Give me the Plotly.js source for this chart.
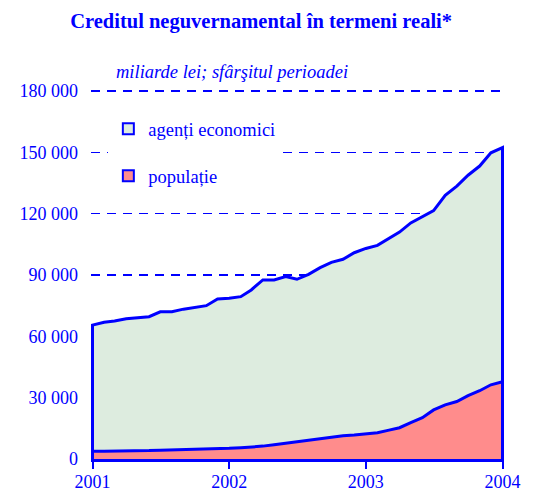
<!DOCTYPE html>
<html>
<head>
<meta charset="utf-8">
<script src="https://cdn.plot.ly/plotly-3.0.1.min.js"></script>
<style>html,body{margin:0;padding:0;background:#fff;}#chart{width:534px;height:493px;}</style>
</head>
<body>
<div id="chart"></div>
<script>
// End-of-month periods
const periods = ['2001-01','2001-02','2001-03','2001-04','2001-05','2001-06','2001-07','2001-08','2001-09','2001-10','2001-11','2001-12',
  '2002-01','2002-02','2002-03','2002-04','2002-05','2002-06','2002-07','2002-08','2002-09','2002-10','2002-11','2002-12',
  '2003-01','2003-02','2003-03','2003-04','2003-05','2003-06','2003-07','2003-08','2003-09','2003-10','2003-11','2003-12',
  '2004-01'];
// agenți economici (miliarde lei)
const agenti = [61700,63100,63700,64700,65100,65500,67700,67600,68700,69500,70100,73200,
  73400,73900,76900,81300,80600,81400,79500,81200,83700,85500,86300,89200,
  90900,91700,93500,95700,97700,98300,97500,102500,105400,107800,109900,113500,
  114500];
// populație (miliarde lei)
const populatie = [3800,3800,3800,3900,4000,4100,4300,4400,4600,4800,4900,5100,
  5200,5500,5800,6300,7000,7800,8400,9100,9900,10700,11400,11700,
  12100,12800,14000,15300,17800,20200,24000,26500,28100,31000,33400,36300,
  37800];
const seriesNames = ['agenți economici', 'populație'];
const yTicks = [0,30000,60000,90000,120000,150000,180000];
const xTicks = ['2001-01-01','2002-01-01','2003-01-01','2004-01-01'];
const xTickLabels = ['2001','2002','2003','2004'];

const BLUE = 'rgb(0,0,255)';
const GREEN = '#ddecdf';
const RED = '#ff8c8c';
const FONT = '"Liberation Serif", "Times New Roman", "DejaVu Serif", serif';

// stacked total (agenți on top of populație)
const total = agenti.map((v, i) => v + populatie[i]);
// closed outlines down to zero at both ends
const xs = [periods[0]].concat(periods, [periods[periods.length - 1]]);
const yTot = [0].concat(total, [0]);
const yPop = [0].concat(populatie, [0]);

const traces = [
  {x: xs, y: yTot, mode: 'lines', fill: 'toself', fillcolor: GREEN,
   line: {color: BLUE, width: 3}, name: seriesNames[0], showlegend: false, hoverinfo: 'skip'},
  {x: xs, y: yPop, mode: 'lines', fill: 'toself', fillcolor: RED,
   line: {color: BLUE, width: 3}, name: seriesNames[1], showlegend: false, hoverinfo: 'skip'},
  {x: [null], y: [null], mode: 'markers', name: seriesNames[0], legendgroup: 'a',
   marker: {symbol: 'square', size: 11, color: GREEN, line: {color: BLUE, width: 2}}},
  {x: [null], y: [null], mode: 'markers', name: seriesNames[1], legendgroup: 'b',
   marker: {symbol: 'square', size: 11, color: RED, line: {color: BLUE, width: 2}}}
];

const layout = {
  width: 534, height: 493,
  margin: {l: 90.5, r: 29.5, t: 90, b: 34, pad: 0},
  paper_bgcolor: '#ffffff', plot_bgcolor: '#ffffff',
  separators: ', ',
  font: {family: FONT, size: 18, color: BLUE},
  title: {text: '<b>Creditul neguvernamental în termeni reali*</b>',
          font: {family: FONT, size: 20.5, color: BLUE},
          x: 0.489, xanchor: 'center', xref: 'container', y: 0.958, yanchor: 'middle', yref: 'container'},
  xaxis: {
    type: 'date', range: ['2000-12-28', '2004-01-05'],
    tickmode: 'array', tickvals: xTicks, ticktext: xTickLabels,
    ticks: 'outside', ticklen: 7, tickwidth: 2, tickcolor: BLUE,
    showline: true, linecolor: BLUE, linewidth: 3,
    showgrid: false, zeroline: false, ticklabelstandoff: -3,
    tickfont: {family: FONT, size: 18, color: BLUE}
  },
  yaxis: {
    range: [0, 180500], tickmode: 'array', tickvals: yTicks,
    tickformat: ',d', ticks: '', showline: false, zeroline: false,
    showgrid: true, gridcolor: BLUE, gridwidth: 1.2, griddash: '9px,7px',
    ticklabelstandoff: 12,
    tickfont: {family: FONT, size: 18, color: BLUE}
  },
  legend: {
    x: 0.042, xanchor: 'left', y: 0.945, yanchor: 'top',
    bgcolor: '#ffffff', borderwidth: 0,
    traceorder: 'grouped', tracegroupgap: 20,
    font: {family: FONT, size: 18.5, color: BLUE}
  },
  annotations: [{
    text: '<i>miliarde lei; sfârşitul perioadei</i>', showarrow: false,
    xref: 'paper', yref: 'paper', x: 0.056, xanchor: 'left', y: 1.05, yanchor: 'middle',
    font: {family: FONT, size: 18.5, color: BLUE}
  }],
  showlegend: true
};

Plotly.newPlot('chart', traces, layout, {displayModeBar: false, staticPlot: true});
</script>
</body>
</html>
